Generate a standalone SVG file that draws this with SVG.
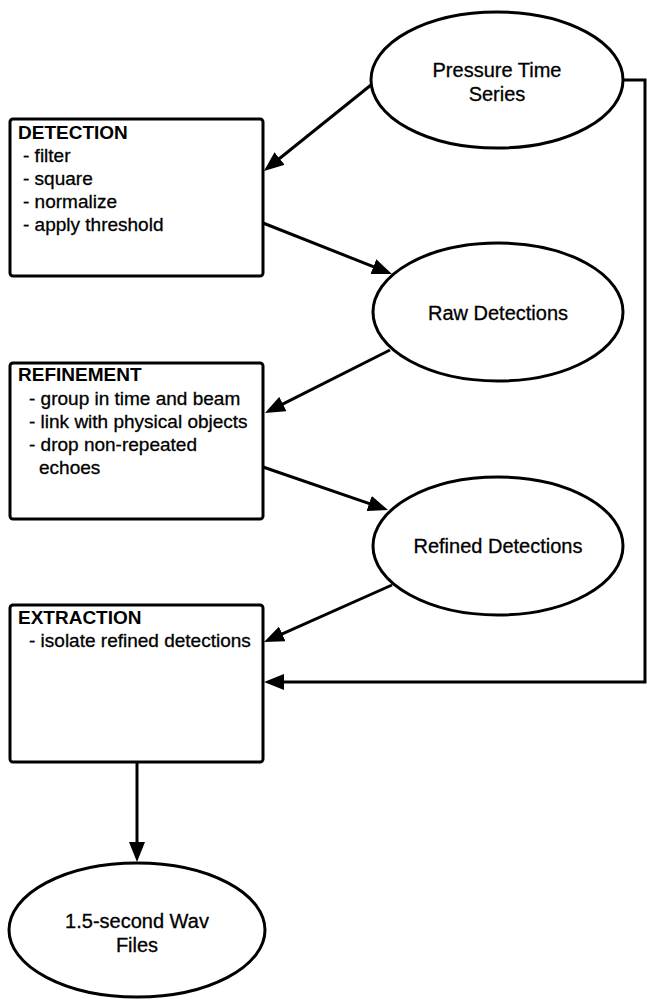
<svg xmlns="http://www.w3.org/2000/svg" width="647" height="1001" viewBox="0 0 647 1001">
  <style>
    .shape { fill: #ffffff; stroke: #000000; stroke-width: 3; }
    .edge { fill: none; stroke: #000000; stroke-width: 3; }
    .lbl { font-family: "Liberation Sans", Arial, Helvetica, sans-serif; font-size: 20px; fill: #000000; stroke: #000000; stroke-width: 0.3; }
    .mid { text-anchor: middle; }
    .head { font-family: "Liberation Sans", Arial, Helvetica, sans-serif; font-size: 19px; font-weight: bold; fill: #000000; }
    .item { font-family: "Liberation Sans", Arial, Helvetica, sans-serif; font-size: 19px; fill: #000000; stroke: #000000; stroke-width: 0.3; }
  </style>
  <defs>
    <marker id="arrow" markerUnits="userSpaceOnUse" markerWidth="20" markerHeight="16" refX="8" refY="8" orient="auto">
      <path d="M0,0 L20,8 L0,16 Z" fill="#000000"/>
    </marker>
  </defs>

  <rect width="647" height="1001" fill="#ffffff"/>

  <!-- connectors -->
  <g id="connectors">
    <line class="edge" x1="371" y1="85" x2="273.3" y2="163.5" marker-end="url(#arrow)"/>
    <line class="edge" x1="263" y1="223" x2="380.8" y2="269.6" marker-end="url(#arrow)"/>
    <line class="edge" x1="390" y1="350" x2="275.7" y2="407.6" marker-end="url(#arrow)"/>
    <line class="edge" x1="263" y1="467" x2="376.7" y2="506.1" marker-end="url(#arrow)"/>
    <line class="edge" x1="392" y1="585" x2="275" y2="637.1" marker-end="url(#arrow)"/>
    <path class="edge" d="M623,80 H645 V682 H276" marker-end="url(#arrow)"/>
    <line class="edge" x1="137" y1="762" x2="137" y2="850" marker-end="url(#arrow)"/>
  </g>

  <!-- data nodes -->
  <g id="pressure-time-series">
    <ellipse class="shape" cx="497" cy="80" rx="126" ry="68"/>
    <text class="lbl mid" x="497" y="77">Pressure Time</text>
    <text class="lbl mid" x="497" y="101">Series</text>
  </g>

  <g id="raw-detections">
    <ellipse class="shape" cx="498" cy="312" rx="125" ry="69"/>
    <text class="lbl mid" x="498" y="320">Raw Detections</text>
  </g>

  <g id="refined-detections">
    <ellipse class="shape" cx="498" cy="546" rx="125" ry="69"/>
    <text class="lbl mid" x="498" y="553">Refined Detections</text>
  </g>

  <g id="wav-files">
    <ellipse class="shape" cx="137" cy="930" rx="128" ry="67"/>
    <text class="lbl mid" x="137" y="928">1.5-second Wav</text>
    <text class="lbl mid" x="137" y="952">Files</text>
  </g>

  <!-- processing steps -->
  <g id="detection">
    <rect class="shape" x="10" y="119" width="253" height="157" rx="3"/>
    <text class="head" x="18" y="139">DETECTION</text>
    <text class="item" x="23" y="162">- filter</text>
    <text class="item" x="23" y="185">- square</text>
    <text class="item" x="23" y="208">- normalize</text>
    <text class="item" x="23" y="231">- apply threshold</text>
  </g>

  <g id="refinement">
    <rect class="shape" x="10" y="363" width="253" height="156" rx="3"/>
    <text class="head" x="18" y="381">REFINEMENT</text>
    <text class="item" x="29" y="405">- group in time and beam</text>
    <text class="item" x="29" y="428">- link with physical objects</text>
    <text class="item" x="29" y="451">- drop non-repeated</text>
    <text class="item" x="39" y="474">echoes</text>
  </g>

  <g id="extraction">
    <rect class="shape" x="10" y="605" width="253" height="157" rx="3"/>
    <text class="head" x="18" y="624">EXTRACTION</text>
    <text class="item" x="29" y="647">- isolate refined detections</text>
  </g>
</svg>
